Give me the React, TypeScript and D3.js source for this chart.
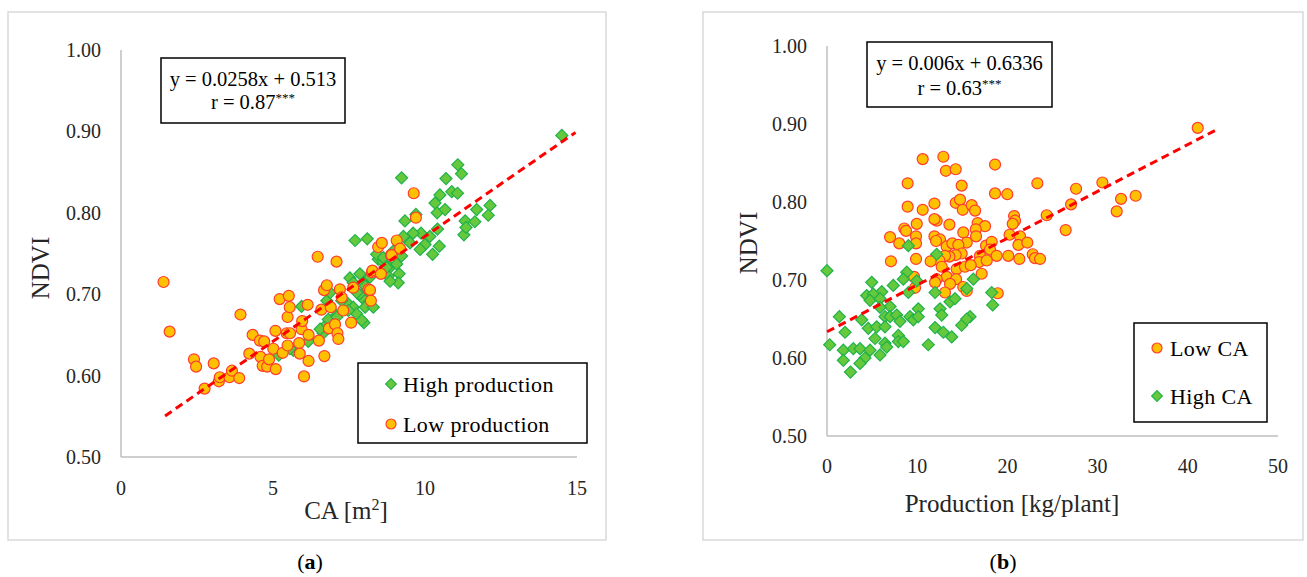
import React from 'react';
import * as d3 from 'd3';

type Pt = [number, number];

// ---------- Chart (a): NDVI vs CA [m2] ----------
const aHighProduction: Pt[] = [
  [14.5, 0.895], [9.23, 0.843], [11.08, 0.859], [11.2, 0.848], [10.69, 0.842], [10.49, 0.822],
  [10.33, 0.812], [10.4, 0.8], [10.66, 0.804], [10.88, 0.826], [11.07, 0.824], [11.7, 0.804],
  [12.14, 0.809], [12.08, 0.797], [11.32, 0.79], [11.64, 0.789], [11.28, 0.773], [11.35, 0.782],
  [9.34, 0.79], [9.7, 0.798], [9.87, 0.775], [10.16, 0.771], [10.41, 0.78], [10.0, 0.761],
  [9.84, 0.755], [10.47, 0.759], [10.25, 0.749], [9.61, 0.775], [9.29, 0.771], [9.51, 0.763],
  [9.23, 0.747], [8.1, 0.768], [8.46, 0.743], [8.63, 0.739], [8.85, 0.733], [9.15, 0.725],
  [9.12, 0.714], [8.79, 0.722], [8.96, 0.753], [7.97, 0.714], [8.08, 0.704], [8.03, 0.684],
  [8.3, 0.684], [7.92, 0.696], [7.99, 0.665], [7.7, 0.766], [7.53, 0.72], [7.86, 0.725],
  [7.64, 0.714], [8.03, 0.71], [7.84, 0.7], [5.94, 0.685], [7.42, 0.69], [7.64, 0.684],
  [7.09, 0.674], [7.75, 0.676], [6.77, 0.663], [6.65, 0.652], [6.16, 0.642], [5.67, 0.631],
  [5.19, 0.625], [5.56, 0.633], [6.55, 0.657], [6.82, 0.669], [6.77, 0.692], [6.88, 0.702],
  [7.1, 0.672], [7.48, 0.68], [7.92, 0.668], [7.76, 0.702], [8.19, 0.721], [8.41, 0.749],
  [8.63, 0.745], [8.74, 0.733], [9.07, 0.737], [8.85, 0.716], [7.26, 0.692],
];

const aLowProduction: Pt[] = [
  [1.4, 0.715], [1.6, 0.654], [2.4, 0.62], [2.47, 0.611], [2.75, 0.584], [3.05, 0.615],
  [3.22, 0.593], [3.25, 0.598], [3.57, 0.598], [3.65, 0.606], [3.89, 0.597], [3.93, 0.675],
  [4.22, 0.627], [4.33, 0.65], [4.57, 0.643], [4.59, 0.623], [4.66, 0.612], [4.71, 0.642],
  [4.81, 0.611], [4.87, 0.62], [5.01, 0.633], [5.08, 0.655], [5.09, 0.608], [5.22, 0.694],
  [5.32, 0.628], [5.45, 0.652], [5.48, 0.637], [5.48, 0.672], [5.52, 0.698], [5.55, 0.684],
  [5.56, 0.652], [5.86, 0.64], [5.88, 0.627], [5.94, 0.657], [5.96, 0.667], [6.02, 0.599],
  [6.14, 0.687], [6.17, 0.65], [6.17, 0.618], [6.47, 0.746], [6.51, 0.643], [6.59, 0.681],
  [6.68, 0.705], [6.69, 0.624], [6.77, 0.711], [6.84, 0.658], [6.9, 0.684], [7.04, 0.663],
  [7.09, 0.74], [7.12, 0.652], [7.15, 0.645], [7.2, 0.706], [7.26, 0.696], [7.31, 0.68],
  [7.57, 0.665], [7.64, 0.708], [8.14, 0.706], [8.19, 0.705], [8.22, 0.692], [8.25, 0.727],
  [8.27, 0.729], [8.46, 0.758], [8.55, 0.725], [8.58, 0.763], [8.88, 0.748], [8.9, 0.748],
  [9.07, 0.766], [9.18, 0.756], [9.63, 0.824], [9.7, 0.794],
];

// ---------- Chart (b): NDVI vs Production [kg/plant] ----------
const bLowCA: Pt[] = [
  [10.61, 0.855], [12.9, 0.858], [13.18, 0.84], [14.27, 0.842], [18.63, 0.848], [8.94, 0.824],
  [14.93, 0.821], [18.63, 0.811], [19.99, 0.81], [23.32, 0.824], [8.94, 0.794], [10.61, 0.79],
  [11.91, 0.798], [14.27, 0.799], [14.75, 0.803], [15.05, 0.79], [16.04, 0.796], [16.42, 0.789],
  [12.16, 0.776], [11.91, 0.778], [13.57, 0.771], [9.95, 0.772], [8.57, 0.766], [8.76, 0.763],
  [6.99, 0.755], [8.01, 0.747], [9.87, 0.756], [9.87, 0.747], [15.11, 0.761], [16.7, 0.773],
  [17.52, 0.769], [16.49, 0.765], [16.52, 0.756], [15.49, 0.748], [11.91, 0.756], [12.53, 0.752],
  [12.09, 0.75], [13.27, 0.743], [13.9, 0.747], [14.56, 0.745], [14.93, 0.734], [14.27, 0.732],
  [13.57, 0.73], [12.09, 0.729], [13.08, 0.731], [12.46, 0.725], [17.63, 0.744], [18.26, 0.749],
  [18.07, 0.739], [18.81, 0.731], [16.96, 0.731], [16.86, 0.723], [17.71, 0.725], [20.24, 0.758],
  [20.74, 0.782], [20.85, 0.776], [20.59, 0.772], [21.4, 0.756], [21.22, 0.745], [22.21, 0.748],
  [24.36, 0.783], [20.1, 0.731], [21.33, 0.727], [22.81, 0.733], [23.06, 0.728], [7.09, 0.724],
  [9.87, 0.727], [11.49, 0.724], [12.72, 0.717], [14.37, 0.714], [15.3, 0.717], [15.93, 0.719],
  [13.27, 0.704], [14.31, 0.701], [13.64, 0.695], [12.16, 0.701], [11.98, 0.697], [13.08, 0.684],
  [17.15, 0.708], [15.11, 0.691], [15.49, 0.686], [9.65, 0.704], [18.93, 0.683], [9.76, 0.69],
  [27.61, 0.817], [30.53, 0.825], [27.06, 0.797], [32.6, 0.804], [34.22, 0.808], [32.12, 0.788],
  [26.46, 0.764], [23.62, 0.727], [41.1, 0.895],
];

const bHighCA: Pt[] = [
  [0.0, 0.712], [9.02, 0.744], [12.16, 0.733], [8.84, 0.71], [8.46, 0.701], [9.95, 0.699],
  [4.96, 0.697], [7.35, 0.693], [6.07, 0.685], [4.4, 0.68], [5.13, 0.682], [4.77, 0.674],
  [5.88, 0.676], [6.99, 0.666], [5.88, 0.665], [9.02, 0.684], [11.98, 0.684], [15.49, 0.689],
  [16.22, 0.701], [18.26, 0.684], [18.37, 0.668], [13.64, 0.672], [14.19, 0.676], [12.53, 0.663],
  [12.72, 0.655], [1.37, 0.653], [2.0, 0.633], [3.85, 0.649], [4.58, 0.638], [5.51, 0.64],
  [6.43, 0.653], [6.43, 0.64], [6.99, 0.653], [7.73, 0.655], [8.09, 0.647], [9.2, 0.653],
  [10.12, 0.663], [9.57, 0.649], [10.12, 0.653], [5.32, 0.625], [6.43, 0.619], [0.3, 0.617],
  [1.81, 0.61], [1.81, 0.597], [2.92, 0.612], [3.66, 0.612], [4.77, 0.61], [4.21, 0.6],
  [3.66, 0.593], [2.6, 0.582], [5.88, 0.604], [6.62, 0.614], [7.91, 0.629], [7.91, 0.621],
  [8.46, 0.621], [11.23, 0.617], [11.98, 0.639], [12.9, 0.633], [13.83, 0.627], [14.93, 0.642],
  [15.86, 0.653], [15.49, 0.65],
];

const yTicks = [0.5, 0.6, 0.7, 0.8, 0.9, 1.0];
const aXTicks = [0, 5, 10, 15];
const bXTicks = [0, 10, 20, 30, 40, 50];

const aTrendSlope = 0.0258;
const aTrendIntercept = 0.513;
const aTrendRange: Pt = [1.45, 14.95];
const bTrendSlope = 0.006;
const bTrendIntercept = 0.6336;
const bTrendRange: Pt = [0, 43];

const FONT = '"Liberation Serif", "Times New Roman", serif';
const CIRCLE_FILL = '#ffc000';
const CIRCLE_STROKE = '#ff3b2f';
const DIAMOND_FILL = '#66c93c';
const DIAMOND_STROKE = '#1fb24a';
const AXIS = '#bfbfbf';
const FRAME = '#d9d9d9';

const diamondPath = (size: number) => d3.symbol().type(d3.symbolSquare).size(size)() as string;

function Circle({ x, y, r = 5.5 }: { x: number; y: number; r?: number }) {
  return <circle cx={x} cy={y} r={r} fill={CIRCLE_FILL} stroke={CIRCLE_STROKE} strokeWidth={1.2} />;
}
function Diamond({ x, y, size = 72 }: { x: number; y: number; size?: number }) {
  return (
    <path
      d={diamondPath(size)}
      transform={`translate(${x},${y}) rotate(45)`}
      fill={DIAMOND_FILL}
      stroke={DIAMOND_STROKE}
      strokeWidth={1.2}
    />
  );
}

interface PanelProps {
  frame: [number, number, number, number];
  xDomain: [number, number];
  xRange: [number, number];
  yRange: [number, number];
  xTicks: number[];
  yLabelX: number;
  xLabelY: number;
  xTitle: React.ReactNode;
  xTitleX: number;
  xTitleY: number;
  ndviPos: [number, number];
  caption: string;
  captionX: number;
  eqBox: [number, number, number, number];
  eqLine1: string;
  eqR: string;
  eqBase: [number, number];
  back: { pts: Pt[]; kind: 'circle' | 'diamond' };
  front: { pts: Pt[]; kind: 'circle' | 'diamond' };
  trend: { slope: number; intercept: number; range: Pt };
  legendBox: [number, number, number, number];
  legendItems: { label: string; kind: 'circle' | 'diamond'; y: number }[];
  legendMarkerX: number;
  legendTextX: number;
}

function Panel(p: PanelProps) {
  const x = d3.scaleLinear().domain(p.xDomain).range(p.xRange);
  const y = d3.scaleLinear().domain([0.5, 1.0]).range(p.yRange);
  const line = d3
    .line<Pt>()
    .x((d) => x(d[0]))
    .y((d) => y(d[1]));
  const trendPts: Pt[] = p.trend.range.map((v) => [v, p.trend.slope * v + p.trend.intercept] as Pt);
  const drawSeries = (s: { pts: Pt[]; kind: 'circle' | 'diamond' }, key: string) =>
    s.pts.map((d, i) =>
      s.kind === 'circle' ? (
        <Circle key={key + i} x={x(d[0])} y={y(d[1])} />
      ) : (
        <Diamond key={key + i} x={x(d[0])} y={y(d[1])} />
      )
    );
  const [ex, ey, ew, eh] = p.eqBox;
  const [lx, ly, lw, lh] = p.legendBox;
  return (
    <g fontFamily={FONT} fill="#000">
      <rect x={p.frame[0]} y={p.frame[1]} width={p.frame[2]} height={p.frame[3]} fill="#fff" stroke={FRAME} strokeWidth={1.5} />
      {/* axes */}
      <line x1={p.xRange[0]} x2={p.xRange[0]} y1={y(1.0)} y2={y(0.5)} stroke={AXIS} strokeWidth={1.5} />
      <line x1={p.xRange[0]} x2={p.xRange[1]} y1={y(0.5)} y2={y(0.5)} stroke={AXIS} strokeWidth={1.5} />
      {yTicks.map((t) => (
        <text key={'yt' + t} x={p.yLabelX} y={y(t)} textAnchor="end" dominantBaseline="central" fontSize={20} fill="#262626">
          {d3.format('.2f')(t)}
        </text>
      ))}
      {p.xTicks.map((t) => (
        <text key={'xt' + t} x={x(t)} y={p.xLabelY} textAnchor="middle" fontSize={20} fill="#262626">
          {t}
        </text>
      ))}
      <text x={p.xTitleX} y={p.xTitleY} textAnchor="middle" fontSize={25} fill="#262626">
        {p.xTitle}
      </text>
      <text
        transform={`translate(${p.ndviPos[0]},${p.ndviPos[1]}) rotate(-90)`}
        textAnchor="middle"
        dominantBaseline="central"
        fontSize={25}
        fill="#262626"
      >
        NDVI
      </text>
      {/* points */}
      {drawSeries(p.back, 'b')}
      {drawSeries(p.front, 'f')}
      {/* trend line */}
      <path d={line(trendPts) as string} fill="none" stroke="#ff0000" strokeWidth={3} strokeDasharray="8,5" />
      {/* equation box */}
      <rect x={ex} y={ey} width={ew} height={eh} fill="#fff" stroke="#000" strokeWidth={1.5} />
      <text x={ex + ew / 2} y={p.eqBase[0]} textAnchor="middle" fontSize={20.5}>
        {p.eqLine1}
      </text>
      <text x={ex + ew / 2} y={p.eqBase[1]} textAnchor="middle" fontSize={20.5}>
        {p.eqR}
        <tspan fontSize={13} dy={-7}>***</tspan>
      </text>
      {/* legend */}
      <rect x={lx} y={ly} width={lw} height={lh} fill="#fff" stroke="#000" strokeWidth={1.5} />
      {p.legendItems.map((it) => (
        <g key={it.label}>
          {it.kind === 'circle' ? (
            <Circle x={p.legendMarkerX} y={it.y} r={5} />
          ) : (
            <Diamond x={p.legendMarkerX} y={it.y} size={56} />
          )}
          <text x={p.legendTextX} y={it.y} dominantBaseline="central" fontSize={22} letterSpacing={0.4}>
            {it.label}
          </text>
        </g>
      ))}
      {/* caption */}
      <text x={p.captionX} y={569} textAnchor="middle" fontSize={22}>
        (<tspan fontWeight="bold">{p.caption}</tspan>)
      </text>
    </g>
  );
}

export default function App() {
  return (
    <svg
      width={1307}
      height={577}
      viewBox="0 0 1307 577"
      style={{ position: 'absolute', left: 0, top: 0, background: '#fff' }}
    >
      <rect x={0} y={0} width={1307} height={577} fill="#fff" />
      <Panel
        frame={[8, 12, 598, 528]}
        xDomain={[0, 15]}
        xRange={[121, 577]}
        yRange={[457, 50]}
        xTicks={aXTicks}
        yLabelX={101}
        xLabelY={495}
        xTitle={
          <>
            CA [m<tspan fontSize={16} dy={-9}>2</tspan>
            <tspan dy={9}>]</tspan>
          </>
        }
        xTitleX={346}
        xTitleY={519}
        ndviPos={[40, 268]}
        caption="a"
        captionX={310}
        eqBox={[161, 58, 184, 65]}
        eqLine1="y = 0.0258x + 0.513"
        eqR="r = 0.87"
        eqBase={[86, 109]}
        back={{ pts: aHighProduction, kind: 'diamond' }}
        front={{ pts: aLowProduction, kind: 'circle' }}
        trend={{ slope: aTrendSlope, intercept: aTrendIntercept, range: aTrendRange }}
        legendBox={[358, 363, 229, 80]}
        legendItems={[
          { label: 'High production', kind: 'diamond', y: 384 },
          { label: 'Low production', kind: 'circle', y: 424 },
        ]}
        legendMarkerX={391}
        legendTextX={403}
      />
      <Panel
        frame={[703, 12, 600, 528]}
        xDomain={[0, 50]}
        xRange={[827, 1278]}
        yRange={[436, 46]}
        xTicks={bXTicks}
        yLabelX={807}
        xLabelY={473}
        xTitle="Production [kg/plant]"
        xTitleX={1012}
        xTitleY={512}
        ndviPos={[748, 243]}
        caption="b"
        captionX={1003}
        eqBox={[867, 42, 185, 65]}
        eqLine1="y = 0.006x + 0.6336"
        eqR="r = 0.63"
        eqBase={[70, 95]}
        back={{ pts: bLowCA, kind: 'circle' }}
        front={{ pts: bHighCA, kind: 'diamond' }}
        trend={{ slope: bTrendSlope, intercept: bTrendIntercept, range: bTrendRange }}
        legendBox={[1134, 323, 133, 99]}
        legendItems={[
          { label: 'Low CA', kind: 'circle', y: 348 },
          { label: 'High CA', kind: 'diamond', y: 396 },
        ]}
        legendMarkerX={1157}
        legendTextX={1170}
      />
    </svg>
  );
}
